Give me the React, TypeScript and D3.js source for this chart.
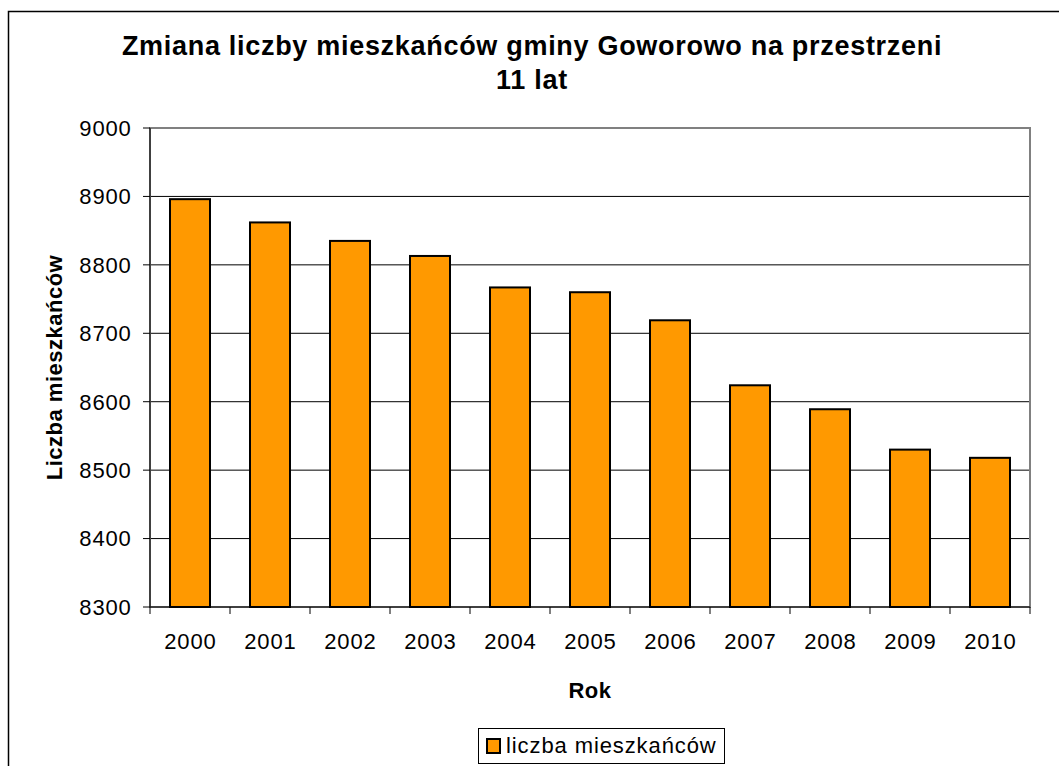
import React from "react";
import * as d3 from "d3";

const years = ["2000", "2001", "2002", "2003", "2004", "2005", "2006", "2007", "2008", "2009", "2010"];
const population = [8896, 8862, 8835, 8813, 8767, 8760, 8719, 8624, 8589, 8530, 8518];
const yTicks = [8300, 8400, 8500, 8600, 8700, 8800, 8900, 9000];
const titleLines = ["Zmiana liczby mieszkańców gminy Goworowo na przestrzeni", "11 lat"];
const yAxisTitle = "Liczba mieszkańców";
const xAxisTitle = "Rok";
const seriesName = "liczba mieszkańców";

const W = 1059;
const H = 766;
const plot = { left: 150, right: 1030, top: 128, bottom: 607 };
const font = "'Liberation Sans', Arial, sans-serif";

export default function App() {
  const x = d3
    .scaleBand<string>()
    .domain(years)
    .range([plot.left, plot.right])
    .paddingInner(0.5)
    .paddingOuter(0.25);
  const y = d3.scaleLinear().domain([8300, 9000]).range([plot.bottom, plot.top]);
  const step = x.step();
  const tickXs = d3.range(years.length + 1).map((i) => plot.left + i * step);

  return (
    <svg
      width={W}
      height={H}
      style={{ position: "absolute", left: 0, top: 0, background: "#fff" }}
      fontFamily={font}
    >
      <rect x={0} y={0} width={W} height={H} fill="#fff" />
      {/* outer chart border */}
      <rect x={8.5} y={11.5} width={W + 20} height={H + 20} fill="none" stroke="#000" strokeWidth={1.5} />

      {/* title */}
      {titleLines.map((t, i) => (
        <text
          key={i}
          x={532}
          y={55 + i * 34}
          textAnchor="middle"
          fontWeight="bold"
          fontSize={27}
          letterSpacing={0.7}
          fill="#000"
        >
          {t}
        </text>
      ))}

      {/* gridlines */}
      {yTicks.map((v) => (
        <line key={v} x1={plot.left} x2={plot.right} y1={y(v)} y2={y(v)} stroke="#000" strokeWidth={1} />
      ))}

      {/* plot border */}
      <rect
        x={plot.left}
        y={plot.top}
        width={plot.right - plot.left}
        height={plot.bottom - plot.top}
        fill="none"
        stroke="#808080"
        strokeWidth={2}
      />

      {/* bars */}
      {years.map((yr, i) => (
        <rect
          key={yr}
          x={x(yr)}
          y={y(population[i])}
          width={x.bandwidth()}
          height={plot.bottom - y(population[i])}
          fill="#FF9900"
          stroke="#000"
          strokeWidth={2}
        />
      ))}

      {/* axes */}
      <line x1={plot.left} x2={plot.left} y1={plot.top} y2={plot.bottom} stroke="#000" strokeWidth={1} />
      <line x1={plot.left} x2={plot.right} y1={plot.bottom} y2={plot.bottom} stroke="#000" strokeWidth={1} />
      {yTicks.map((v) => (
        <g key={v}>
          <line x1={plot.left - 7} x2={plot.left} y1={y(v)} y2={y(v)} stroke="#000" strokeWidth={1} />
          <text x={131.5} y={y(v)} dy="0.36em" textAnchor="end" fontSize={22} letterSpacing={0.8} fill="#000">
            {v}
          </text>
        </g>
      ))}
      {tickXs.map((tx, i) => (
        <line key={i} x1={tx} x2={tx} y1={plot.bottom} y2={plot.bottom + 7} stroke="#000" strokeWidth={1} />
      ))}
      {years.map((yr) => (
        <text
          key={yr}
          x={(x(yr) as number) + x.bandwidth() / 2 + 0.4}
          y={649}
          textAnchor="middle"
          fontSize={22}
          letterSpacing={0.8}
          fill="#000"
        >
          {yr}
        </text>
      ))}

      {/* axis titles */}
      <text
        x={(plot.left + plot.right) / 2}
        y={698}
        textAnchor="middle"
        fontWeight="bold"
        fontSize={22}
        letterSpacing={0.5}
        fill="#000"
      >
        {xAxisTitle}
      </text>
      <text
        transform={`translate(61.5, ${(plot.top + plot.bottom) / 2}) rotate(-90)`}
        textAnchor="middle"
        fontWeight="bold"
        fontSize={22}
        letterSpacing={0.5}
        fill="#000"
      >
        {yAxisTitle}
      </text>

      {/* legend */}
      <rect x={478.5} y={728.5} width={246} height={35} fill="#fff" stroke="#000" strokeWidth={1} />
      <rect x={487} y={739} width={13} height={14} fill="#FF9900" stroke="#000" strokeWidth={2} />
      <text x={506} y={753} fontSize={22} letterSpacing={0.9} fill="#000">
        {seriesName}
      </text>
    </svg>
  );
}
